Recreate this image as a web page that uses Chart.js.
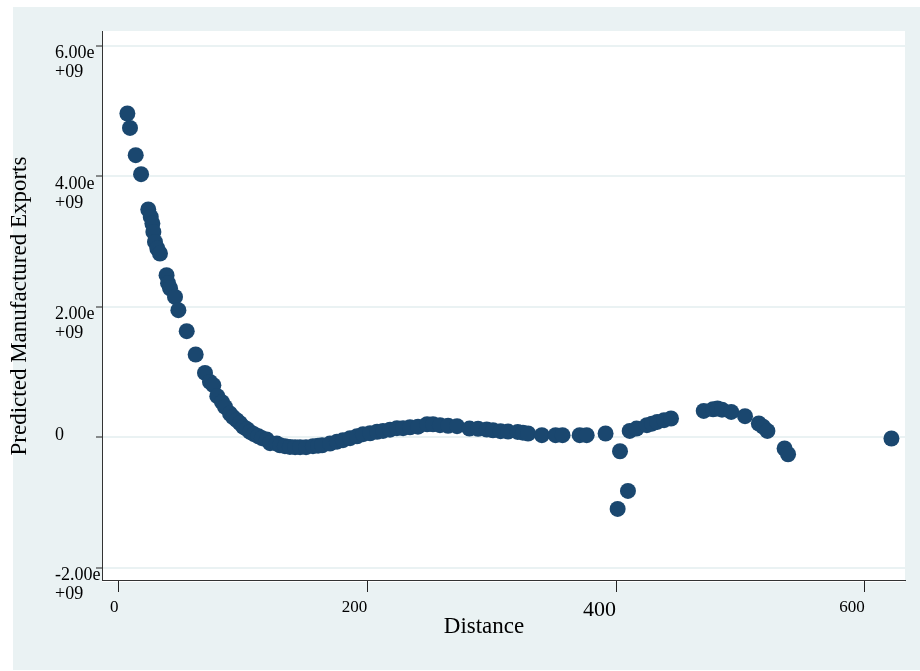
<!DOCTYPE html>
<html>
<head>
<meta charset="utf-8">
<script src="https://cdn.jsdelivr.net/npm/chart.js@4.4.1/dist/chart.umd.min.js"></script>
<style>
  html, body { margin: 0; padding: 0; background: #fff; }
</style>
</head>
<body>
<canvas id="chart" width="920" height="671"></canvas>
<script>
// distance (x) and predicted manufactured exports (y)
const distance = [
  7.2, 9.3, 13.9, 18.2, 24.0, 26.0, 27.3, 28.1, 29.4, 31.3, 33.4,
  38.7, 39.9, 41.5, 45.5, 48.2, 54.9, 62.1, 69.6, 73.6, 76.3, 79.5,
  83.3, 85.7, 89.7, 92.1, 95.1, 97.7, 100.4, 103.4, 105.8, 109.0, 112.5,
  115.4, 119.2, 121.9, 127.3, 129.9, 133.9, 137.9, 142.0, 146.0, 150.8,
  156.4, 160.5, 163.7, 170.1, 175.7, 180.5, 186.2, 191.8, 196.6, 202.3,
  207.9, 212.7, 218.3, 223.9, 228.8, 234.4, 240.8, 248.1, 252.9, 258.5,
  265.0, 272.2, 282.2, 289.1, 296.1, 301.1, 307.2, 313.2, 321.0, 325.2,
  329.3, 340.4, 351.4, 357.0, 370.8, 376.4, 391.6, 401.3, 403.2, 409.6,
  411.0, 416.5, 424.8, 428.9, 433.1, 438.6, 444.2, 470.5, 478.0, 481.6,
  485.2, 492.6, 503.7, 514.8, 518.2, 521.7, 535.5, 538.3, 621.4
]
const predicted = [
  4.965e9, 4.744e9, 4.325e9, 4.034e9, 3.492e9, 3.379e9, 3.278e9, 3.149e9, 2.995e9, 2.894e9, 2.818e9,
  2.485e9, 2.362e9, 2.285e9, 2.152e9, 1.948e9, 1.626e9, 1.268e9, 0.986e9, 0.848e9, 0.798e9, 0.629e9,
  0.537e9, 0.465e9, 0.363e9, 0.307e9, 0.261e9, 0.215e9, 0.158e9, 0.123e9, 0.081e9, 0.046e9, 0.015e9,
  -0.015e9, -0.035e9, -0.092e9, -0.097e9, -0.123e9, -0.138e9, -0.149e9, -0.153e9, -0.153e9, -0.153e9,
  -0.138e9, -0.130e9, -0.123e9, -0.097e9, -0.069e9, -0.046e9, -0.015e9, 0.015e9, 0.046e9, 0.061e9,
  0.084e9, 0.097e9, 0.115e9, 0.138e9, 0.138e9, 0.153e9, 0.161e9, 0.199e9, 0.199e9, 0.184e9,
  0.176e9, 0.169e9, 0.133e9, 0.130e9, 0.118e9, 0.107e9, 0.092e9, 0.087e9, 0.081e9, 0.069e9,
  0.057e9, 0.031e9, 0.031e9, 0.031e9, 0.031e9, 0.031e9, 0.057e9, -1.100e9, -0.215e9, -0.824e9,
  0.097e9, 0.133e9, 0.184e9, 0.207e9, 0.235e9, 0.261e9, 0.287e9, 0.403e9, 0.429e9, 0.440e9,
  0.422e9, 0.388e9, 0.322e9, 0.210e9, 0.161e9, 0.097e9, -0.173e9, -0.261e9, -0.020e9
]
const xTicks = [0, 200, 400, 600]
const yTicks = [-2e9, 0, 2e9, 4e9, 6e9]
const yTickLabels = [['-2.00e', '+09'], ['0', '', ''], ['2.00e', '+09'], ['4.00e', '+09'], ['6.00e', '+09']]

const serif = 'Liberation Serif'

// stata-like backdrop and the two axis titles
const backdrop = {
  id: 'backdrop',
  beforeDraw(chart) {
    const { ctx, chartArea: a } = chart
    ctx.save()
    ctx.fillStyle = '#ffffff'
    ctx.fillRect(0, 0, chart.width, chart.height)
    ctx.fillStyle = '#eaf2f3'
    ctx.fillRect(13, 7, chart.width - 13, chart.height - 8)
    ctx.fillStyle = '#ffffff'
    ctx.fillRect(a.left, a.top, a.right - a.left, a.bottom - a.top + 2)
    ctx.restore()
  },
  afterDraw(chart) {
    const { ctx } = chart
    ctx.save()
    ctx.fillStyle = '#000'
    ctx.textAlign = 'center'
    ctx.textBaseline = 'middle'
    ctx.font = '23px "' + serif + '"'
    ctx.fillText('Distance', 484, 627)
    ctx.translate(20, 306)
    ctx.rotate(-Math.PI / 2)
    ctx.font = '23px "' + serif + '"'
    ctx.fillText('Predicted Manufactured Exports', 0, 0)
    ctx.restore()
  }
}

new Chart(document.getElementById('chart').getContext('2d'), {
  type: 'scatter',
  data: {
    datasets: [
      {
        label: 'Predicted Manufactured Exports',
        data: distance.map((d, i) => ({ x: d, y: predicted[i] })),
        backgroundColor: '#1a476f',
        borderWidth: 0,
        pointRadius: 8,
        pointHoverRadius: 8
      }
    ]
  },
  options: {
    responsive: false,
    animation: false,
    devicePixelRatio: 1,
    layout: { padding: { left: 55, top: 31, right: 15, bottom: 0 } },
    plugins: { legend: { display: false }, tooltip: { enabled: false } },
    scales: {
      x: {
        type: 'linear',
        min: -13.2,
        max: 632.3,
        afterBuildTicks: s => { s.ticks = xTicks.map(v => ({ value: v })) },
        afterFit: s => { s.height = 91 },
        grid: { drawOnChartArea: false, tickLength: 12, tickColor: '#222', tickWidth: 1 },
        border: { color: '#333', width: 1 },
        ticks: {
          align: 'end',
          padding: 5,
          maxRotation: 0,
          autoSkip: false,
          color: '#000',
          font: c => ({ family: serif, size: c.tick && c.tick.value === 400 ? 22 : 17 })
        }
      },
      y: {
        min: -2.19e9,
        max: 6.23e9,
        afterBuildTicks: s => { s.ticks = yTicks.map(v => ({ value: v })) },
        afterFit: s => { s.width = 47 },
        grid: { color: '#eaf2f3', lineWidth: 2, tickLength: 6, tickColor: '#222', tickWidth: 1 },
        border: { color: '#333', width: 1 },
        ticks: {
          crossAlign: 'far',
          labelOffset: 17,
          autoSkip: false,
          color: '#000',
          font: { family: serif, size: 18, lineHeight: 1.05 },
          callback: (v, i) => yTickLabels[i]
        }
      }
    }
  },
  plugins: [backdrop]
})
</script>
</body>
</html>
